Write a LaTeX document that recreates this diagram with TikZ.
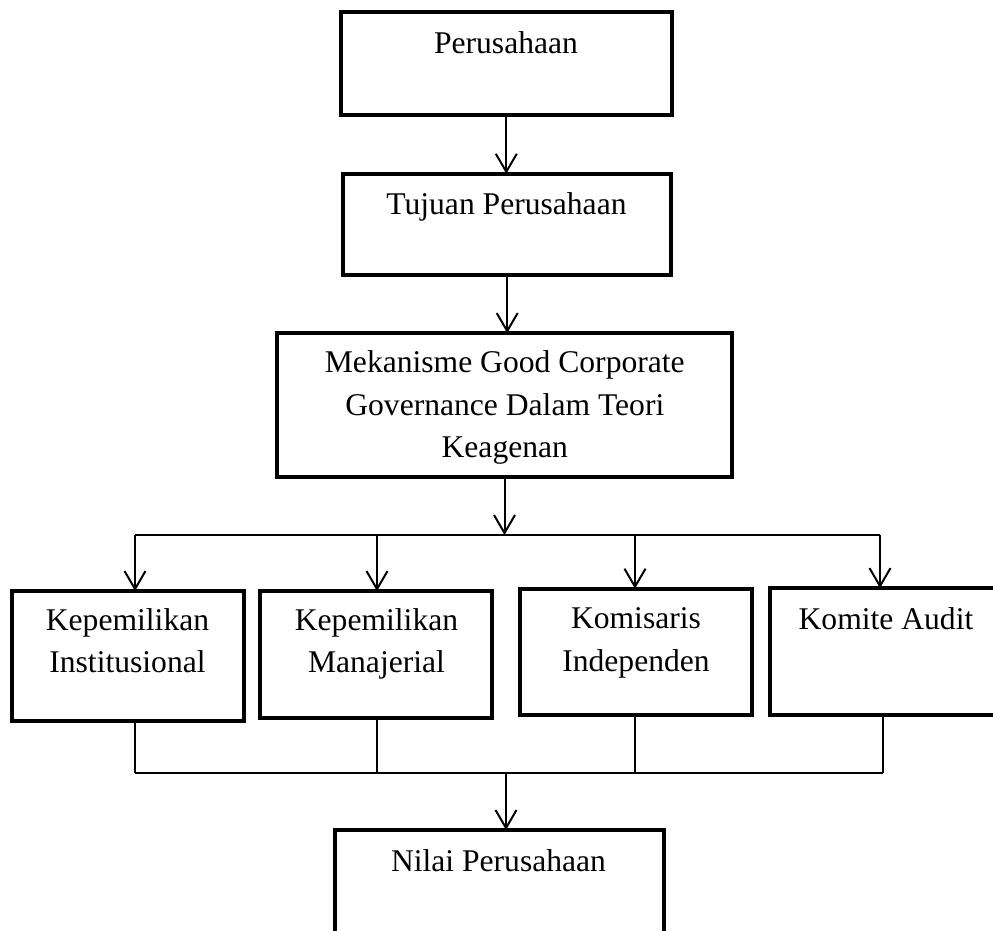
\documentclass[tikz,border=0pt]{standalone}
\usepackage{fontspec}
\setmainfont{Liberation Serif}
\usetikzlibrary{arrows.meta}
\tikzset{
  box/.style={draw, line width=2pt, inner sep=0pt, outer sep=0pt},
  lbl/.style={font=\fontsize{15.8}{21.3}\selectfont, inner sep=0pt, anchor=base, align=center},
  conn/.style={line width=1pt},
  arr/.style={conn, -{Straight Barb[length=9pt,width=10.5pt]}}
}
\begin{document}
\begin{tikzpicture}[x=0.5pt,y=-0.5pt]
\clip (0,0) rectangle (993,931);
\fill[white] (0,0) rectangle (993,931);
% boxes
\node[box, minimum width=165.25pt, minimum height=51.35pt] (b1) at (506.3,63.4) {};
\node[box, minimum width=164.25pt, minimum height=50.65pt] (b2) at (507.2,224.4) {};
\node[box, minimum width=227.5pt, minimum height=72pt] (b3) at (504.5,405) {};
\node[box, minimum width=116.15pt, minimum height=65pt] (ba) at (128.2,656) {};
\node[box, minimum width=115.85pt, minimum height=63.35pt] (bb) at (376.2,654.4) {};
\node[box, minimum width=115.85pt, minimum height=63pt] (bc) at (636.2,651.7) {};
\node[box, minimum width=116.15pt, minimum height=63.35pt] (bd) at (885.9,651.4) {};
\node[box, minimum width=164.5pt, minimum height=52.5pt] (be) at (499.2,882.5) {};
% texts (multi-line nodes are placed by the baseline of their last line)
\node[lbl] (t1) at (506,54) {Perusahaan};
\node[lbl] (t2) at (506.5,215) {Tujuan Perusahaan};
\node[lbl] (t3) at (504.8,458) {Mekanisme Good Corporate\\Governance Dalam Teori\\Keagenan};
\node[lbl] (ta) at (127.5,673) {Kepemilikan\\Institusional};
\node[lbl] (tb) at (376.5,673) {Kepemilikan\\Manajerial};
\node[lbl] (tc) at (636,671) {Komisaris\\Independen};
\node[lbl] (td) at (886,630) {Komite Audit};
\node[lbl] (te) at (498.5,871.7) {Nilai Perusahaan};
% junction coordinates
\coordinate (h0) at (504.5,535);
\coordinate (h1) at (135,535);
\coordinate (h2) at (377,535);
\coordinate (h3) at (635,535);
\coordinate (h4) at (880,535);
\coordinate (g1) at (135,773);
\coordinate (g2) at (377,773);
\coordinate (g3) at (635,773);
\coordinate (g4) at (882.5,773);
\coordinate (g0) at (506,773);
% connectors
\draw[arr] (b1.south) -- (b1.south |- b2.north);
\draw[arr] (b2.south) -- (b2.south |- b3.north);
\draw[arr] (b3.south) -- (h0);
\draw[conn] (h1) -- (h4);
\draw[arr] (h1) -- (h1 |- ba.north);
\draw[arr] (h2) -- (h2 |- bb.north);
\draw[arr] (h3) -- (h3 |- bc.north);
\draw[arr] (h4) -- (h4 |- bd.north);
\draw[conn] (ba.south -| g1) -- (g1);
\draw[conn] (bb.south -| g2) -- (g2);
\draw[conn] (bc.south -| g3) -- (g3);
\draw[conn] (bd.south -| g4) -- (g4);
\draw[conn] (g1) -- (g4);
\draw[arr] (g0) -- (g0 |- be.north);
\end{tikzpicture}
\end{document}
